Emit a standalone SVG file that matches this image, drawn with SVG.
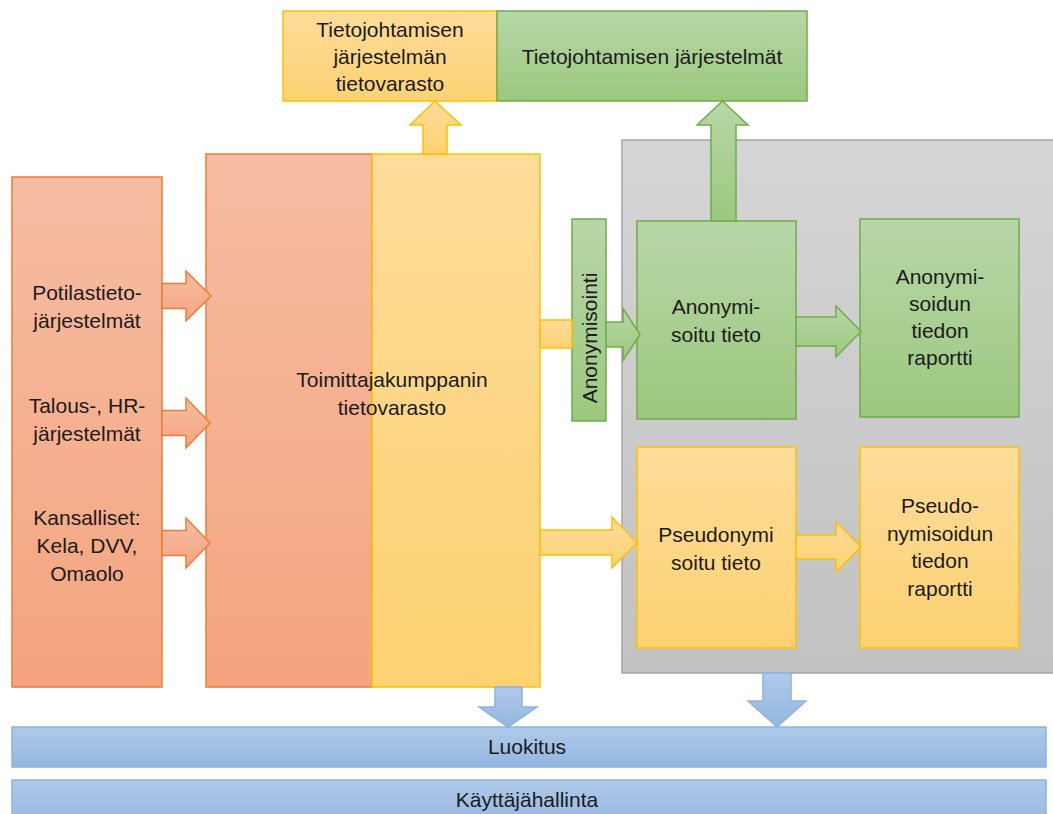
<svg xmlns="http://www.w3.org/2000/svg" width="1053" height="814" viewBox="0 0 1053 814">
<defs>
<linearGradient id="gOr" x1="0" y1="0" x2="0" y2="1"><stop offset="0" stop-color="#f6bda3"/><stop offset="1" stop-color="#f4a47e"/></linearGradient>
<linearGradient id="gYe" x1="0" y1="0" x2="0" y2="1"><stop offset="0" stop-color="#fedc9a"/><stop offset="1" stop-color="#fdd272"/></linearGradient>
<linearGradient id="gGr" x1="0" y1="0" x2="0" y2="1"><stop offset="0" stop-color="#b7d7a8"/><stop offset="1" stop-color="#9cc87e"/></linearGradient>
<linearGradient id="gBl" x1="0" y1="0" x2="0" y2="1"><stop offset="0" stop-color="#afcae9"/><stop offset="1" stop-color="#93b6e0"/></linearGradient>
<linearGradient id="gGy" x1="0" y1="0" x2="0" y2="1"><stop offset="0" stop-color="#d5d5d5"/><stop offset="1" stop-color="#c2c2c2"/></linearGradient>
</defs>
<style>
text{font-family:"Liberation Sans",Arial,sans-serif;font-size:21px;fill:#1b1b1b;text-anchor:middle}
.or{fill:url(#gOr);stroke:#ed7d31;stroke-width:1.5}
.ye{fill:url(#gYe);stroke:#ffc000;stroke-width:1.5}
.gr{fill:url(#gGr);stroke:#70ad47;stroke-width:1.5}
.bl{fill:url(#gBl);stroke:#8db4e2;stroke-width:1.5}
.gy{fill:url(#gGy);stroke:#a6a6a6;stroke-width:1.5}
</style>

<g id="gray-area"><rect class="gy" x="622" y="140" width="440" height="533"/></g>

<g id="sources">
<rect class="or" x="12" y="177" width="150" height="510"/>
<text x="87" y="300">Potilastieto-</text>
<text x="87" y="328">järjestelmät</text>
<text x="87" y="413">Talous-, HR-</text>
<text x="87" y="441">järjestelmät</text>
<text x="87" y="525">Kansalliset:</text>
<text x="87" y="553">Kela, DVV,</text>
<text x="87" y="581">Omaolo</text>
</g>

<g id="toimittaja">
<rect class="or" x="206" y="154" width="166" height="533"/>
<rect class="ye" x="372" y="154" width="168" height="533"/>
<text x="392" y="387">Toimittajakumppanin</text>
<text x="392" y="415">tietovarasto</text>
</g>

<g id="tj-tietovarasto">
<rect class="ye" x="283" y="11" width="214" height="90"/>
<text x="390" y="37">Tietojohtamisen</text>
<text x="390" y="64">järjestelmän</text>
<text x="390" y="91">tietovarasto</text>
</g>

<g id="tj-jarjestelmat">
<rect class="gr" x="497" y="11" width="310" height="90"/>
<text x="652" y="64">Tietojohtamisen järjestelmät</text>
</g>

<g id="anonymisointi">
<rect class="gr" x="572" y="219" width="34" height="202"/>
<text transform="translate(597,338) rotate(-90)">Anonymisointi</text>
</g>

<g id="anonymisoitu">
<rect class="gr" x="637" y="221" width="159" height="198"/>
<text x="716" y="314">Anonymi-</text>
<text x="716" y="342">soitu tieto</text>
</g>

<g id="anonym-raportti">
<rect class="gr" x="860" y="219" width="159" height="198"/>
<text x="940" y="284">Anonymi-</text>
<text x="940" y="311">soidun</text>
<text x="940" y="338">tiedon</text>
<text x="940" y="365">raportti</text>
</g>

<g id="pseudonymisoitu">
<rect class="ye" x="637" y="447" width="159" height="201"/>
<text x="716" y="542">Pseudonymi</text>
<text x="716" y="570">soitu tieto</text>
</g>

<g id="pseudo-raportti">
<rect class="ye" x="860" y="447" width="159" height="201"/>
<text x="940" y="513">Pseudo-</text>
<text x="940" y="541">nymisoidun</text>
<text x="940" y="568">tiedon</text>
<text x="940" y="596">raportti</text>
</g>

<g id="luokitus">
<rect class="bl" x="12" y="727" width="1034" height="40"/>
<text x="527" y="754">Luokitus</text>
</g>

<g id="kayttajahallinta">
<rect class="bl" x="12" y="780" width="1034" height="50"/>
<text x="527" y="807">Käyttäjähallinta</text>
</g>

<g id="connectors">
<polygon class="or" points="162,283.5 186,283.5 186,271 211,296 186,321 186,308.5 162,308.5"/>
<polygon class="or" points="162,410.5 186,410.5 186,398 210,423 186,448 186,435.5 162,435.5"/>
<polygon class="or" points="162,530.5 186,530.5 186,518 210,543 186,568 186,555.5 162,555.5"/>
<rect class="ye" x="540" y="320" width="32" height="28"/>
<polygon class="gr" points="606,322 623,322 623,308.5 640,334.5 623,360.5 623,347 606,347"/>
<polygon class="ye" points="540,530 612,530 612,517 637,542.5 612,568 612,555 540,555"/>
<polygon class="gr" points="796,317 836,317 836,306 861,331.5 836,357 836,346 796,346"/>
<polygon class="ye" points="796,535 836,535 836,522 861,547 836,572 836,559 796,559"/>
<polygon class="ye" points="423,154 423,125 410,125 435,101 461,125 447,125 447,154"/>
<polygon class="gr" points="711,221 711,125 697,125 722.5,101 748,125 736,125 736,221"/>
<polygon class="bl" points="495,687 522,687 522,707 537,707 508,727 479,707 495,707"/>
<polygon class="bl" points="763,673 791,673 791,701 806,701 777,727 748,701 763,701"/>
</g>
</svg>
